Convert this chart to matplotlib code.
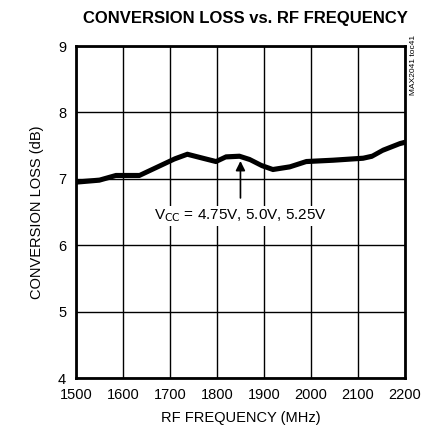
import numpy as np
import matplotlib.pyplot as plt

plt.rcParams['font.family'] = ['Liberation Sans', 'DejaVu Sans']

# 数据
freq = [1500, 1550, 1585, 1635, 1677, 1710, 1737, 1770, 1798, 1819, 1848, 1870,
        1895, 1919, 1955, 1990, 2047, 2111, 2130, 2153, 2189, 2200]
loss_500 = [6.95, 6.98, 7.05, 7.05, 7.19, 7.30, 7.37, 7.31, 7.26, 7.33, 7.34, 7.29,
            7.20, 7.14, 7.18, 7.26, 7.28, 7.31, 7.34, 7.43, 7.53, 7.55]
offsets = {'4.75V': -0.02, '5.0V': 0.0, '5.25V': 0.02}
xticks = [1500, 1600, 1700, 1800, 1900, 2000, 2100, 2200]
yticks = [4, 5, 6, 7, 8, 9]

fig = plt.figure(figsize=(4.29, 4.34), dpi=100)
ax = fig.add_axes([0.177, 0.129, 0.767, 0.765])

for v, d in offsets.items():
    ax.plot(freq, np.array(loss_500) + d, color='black', lw=1.8)

ax.set_xlim(1500, 2200)
ax.set_ylim(4, 9)
ax.set_xticks(xticks)
ax.set_yticks(yticks)
ax.grid(True, color='black', lw=1)
for s in ax.spines.values():
    s.set_linewidth(2)
ax.tick_params(length=0, labelsize=10.5, pad=7)

ax.annotate('', xy=(1850, 7.31), xytext=(1850, 6.67),
            arrowprops=dict(arrowstyle='-|>', color='black', lw=1.2, mutation_scale=14))
ax.text(1850, 6.44, r'V$_{\mathrm{CC}}$ = 4.75V, 5.0V, 5.25V', ha='center', va='center',
        fontsize=11, bbox=dict(facecolor='white', edgecolor='none', pad=1))

ax.set_xlabel('RF FREQUENCY (MHz)', fontsize=10.5, labelpad=7)
ax.set_ylabel('CONVERSION LOSS (dB)', fontsize=10.5, labelpad=10)
fig.text(0.571, 0.958, 'CONVERSION LOSS vs. RF FREQUENCY', ha='center', va='center',
         fontsize=12, fontweight='bold')
fig.text(0.963, 0.85, 'MAX2041 toc41', rotation=90, ha='center', va='center', fontsize=6)

fig.savefig('out.png', dpi=100)
